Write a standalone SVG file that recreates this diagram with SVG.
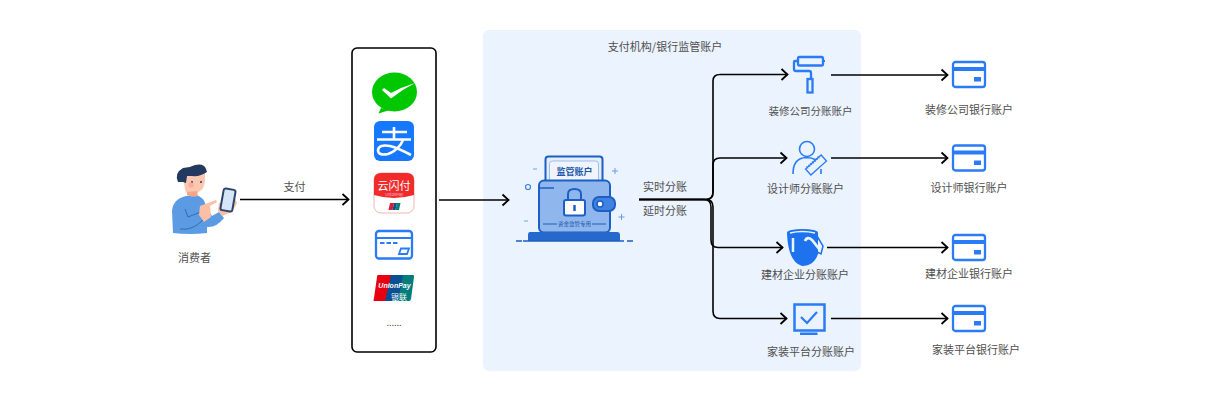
<svg xmlns="http://www.w3.org/2000/svg" width="1232" height="400" viewBox="0 0 1232 400">
<defs>
<style>
text{font-family:"Noto Sans CJK SC","Liberation Sans",sans-serif;font-size:11px;fill:#4f4f4f;text-anchor:middle}
.c{fill:none;stroke:#000;stroke-width:1.6}
.b{fill:none;stroke:#2a7bf6;stroke-width:2.300}
.f{fill:#2a7bf6}
</style>
<marker id="a" markerUnits="userSpaceOnUse" markerWidth="12" markerHeight="14" refX="9.500" refY="7" orient="auto"><path d="M3 1.500 L9 7 L3 12.500" fill="none" stroke="#000" stroke-width="1.800"/></marker>
<symbol id="card" viewBox="0 0 34 28" overflow="visible">
<rect x="1" y="1" width="32" height="25" rx="2.500" fill="none" stroke="#2a7bf6" stroke-width="2.300"/>
<rect x="1" y="6" width="32" height="4" fill="#2a7bf6"/>
<rect x="22" y="16" width="7" height="4.500" fill="#2a7bf6"/>
</symbol>
</defs>
<rect x="483" y="30" width="378" height="341" rx="6" fill="#ebf3fe"/>
<g id="connectors">
<path class="c" d="M240 199.500H349" marker-end="url(#a)"/>
<path class="c" d="M439 200H509" marker-end="url(#a)"/>
<path class="c" d="M639 199.500H706Q713 199.500 713 192V81Q713 74.500 720 74.500H788" marker-end="url(#a)"/>
<path class="c" d="M639 199.500H706Q713 199.500 713 192V165Q713 158 720 158H787" marker-end="url(#a)"/>
<path class="c" d="M639 199.500H704Q711 199.500 711 207V240Q711 247.500 718 247.500H783" marker-end="url(#a)"/>
<path class="c" d="M639 199.500H706Q713 199.500 713 207V311Q713 318.500 720 318.500H787" marker-end="url(#a)"/>
<path class="c" d="M831 75H948" marker-end="url(#a)"/>
<path class="c" d="M831 158H948" marker-end="url(#a)"/>
<path class="c" d="M827 247.500H948" marker-end="url(#a)"/>
<path class="c" d="M831 318.500H948" marker-end="url(#a)"/>
</g>
<g id="consumer">
<path d="M173 233 L172 211 Q173 199 186 196 L196 195 Q204 197 206 206 L212 216 L219 212 L224 218 Q216 228 207 227 L207 233 Q190 235 173 233Z" fill="#5b9be3"/>
<path d="M185 209L188 217L203 211M180 229Q192 231 203 220" fill="none" stroke="#2d5f9e" stroke-width=".8"/>
<path d="M200 206L216 200 217 202 210 206 211 217 204 222 199 215Z" fill="#fbbfa6"/>
<path d="M219 203L218 211 222 216 232 212 237 203 235 198Z" fill="#fbbfa6"/>
<path d="M184 172Q198 168 205 174Q206 188 200 191Q197 194 191 194L186 192Q183 184 184 172Z" fill="#fbc7b0"/>
<path d="M187 192L197 191 198 196Q192 198 187 195Z" fill="#f7a48d"/>
<path d="M178 182Q174 173 183 168Q189 168 195 165Q204 163 206 169L207 172Q200 177 192 176L187 176 186 183 183 182Z" fill="#24395f"/>
<circle cx="192" cy="182" r="1" fill="#24395f"/><circle cx="201" cy="182" r="1" fill="#24395f"/>
<circle cx="191" cy="185" r="2.800" fill="#f8a89a" opacity=".8"/>
<rect x="222" y="189" width="12" height="22" rx="2" transform="rotate(10 228 200)" fill="#d5e6f8" stroke="#2d4468" stroke-width="2"/>
<text x="194.500" y="261.500">消费者</text>
</g>
<text x="294.500" y="190.500">支付</text>
<rect x="352" y="48" width="84" height="304" rx="5" fill="#fff" stroke="#000" stroke-width="1.600"/>
<g id="wechat">
<ellipse cx="394.500" cy="92" rx="22.500" ry="19.500" fill="#00c800"/>
<path d="M381 108L378.500 113.500 390 110Z" fill="#00c800"/>
<path d="M382 90L384 88 391 93Q402 87 415 83Q403 89 391 98.500Z" fill="#fff"/>
</g>
<g id="alipay">
<rect x="374" y="121" width="40" height="40" rx="6" fill="#1677ff"/>
<path d="M382 132H407M394 127V139M377 139.500H411M403 140Q399 150 388 154Q378 156 378 150Q379 144 390 146Q398 148 411 155" fill="none" stroke="#fff" stroke-width="2.600"/>
</g>
<g id="unionpay-cloud">
<rect x="374" y="173" width="40" height="40" rx="7" fill="#fff" stroke="#f0b5b5"/>
<path d="M374 180Q374 173 381 173H407Q414 173 414 180V195Q394 201 374 195Z" fill="#f12a2a"/>
<text x="394" y="190" style="font-size:11px;fill:#fff">云闪付</text>
<text x="394" y="196" style="font-size:4px;fill:#fbd">UnionPay</text>
<path d="M388.500 210L390 203H394L392.500 210Z" fill="#d81e2c"/><path d="M392.500 210L394 203H397L395.500 210Z" fill="#124e8f"/><path d="M395.500 210L397 203H400.500L399 210Z" fill="#0b7f76"/>
</g>
<g id="bankcard">
<rect x="376" y="231" width="36" height="27.500" rx="3" fill="#fff" stroke="#2a7bf6" stroke-width="2.300"/>
<path d="M376 238H412" stroke="#2a7bf6" stroke-width="2"/>
<path d="M380 243H398" stroke="#2a7bf6" stroke-width="2" stroke-dasharray="4.500 2"/>
<path d="M399 254L401 248.500H409L407 254Z" fill="none" stroke="#2a7bf6" stroke-width="1.800"/>
</g>
<g id="unionpay">
<path d="M378 275H394L390 301H374Q373 301 374 298L377 277Q377 275 378 275Z" fill="#e60012"/>
<path d="M391 275H404L400 301H385Z" fill="#0a4f92"/>
<path d="M403 275H413Q414.500 275 414 277L411 299Q410.500 301 409 301H398Z" fill="#017e7b"/>
<text x="394.500" y="288" style="font-size:7px;font-style:italic;font-weight:700;fill:#fff;font-family:'Liberation Sans',sans-serif">UnionPay</text>
<text x="399" y="299.500" style="font-size:8px;fill:#fff">银联</text>
</g>
<text x="394" y="326" style="font-size:9px">......</text>
<text x="665" y="50.500">支付机构/银行监管账户</text>
<g id="vault">
<rect x="545.500" y="156.500" width="57" height="30" rx="3" fill="#e4eefb" stroke="#1d5fc4" stroke-width="2"/>
<rect x="549.500" y="161" width="49" height="25" rx="3" fill="#f0f5fd" stroke="#9dbdea"/>
<text x="574.500" y="175" style="font-size:9px;font-weight:700;fill:#2055a8">监管账户</text>
<rect x="539" y="180.500" width="71" height="52" rx="5" fill="#8fb7ee" stroke="#1d5fc4" stroke-width="2"/>
<path d="M540 188H554" stroke="#1d5fc4" stroke-width="1.500"/>
<rect x="593" y="197" width="22" height="14" rx="6" fill="#3f82e0" stroke="#1d5fc4" stroke-width="2"/>
<circle cx="600" cy="204" r="3" fill="#fff" stroke="#1d5fc4" stroke-width="1.500"/>
<rect x="564" y="200" width="21" height="15.500" rx="2" fill="#fff" stroke="#1d5fc4" stroke-width="2"/>
<path d="M568 200V194Q568 189 574.500 189Q581 189 581 194V200" fill="none" stroke="#1d5fc4" stroke-width="2"/>
<path d="M574.500 205V211" stroke="#1d5fc4" stroke-width="2.500"/>
<path d="M543 224H557M592 224H606" stroke="#1d5fc4"/>
<text x="574.500" y="226" style="font-size:5.500px;fill:#2055a8">资金监管专用</text>
<path d="M530 232H617Q620 232 620 235V241H528V235Q528 232 530 232Z" fill="#2668cc"/>
<path d="M516 241H522M523 241H624M627 241H633" stroke="#1d5fc4" stroke-width="1.600"/>
<circle cx="528" cy="187" r="2.500" fill="none" stroke="#3f82e0" stroke-width="1.200"/>
<path d="M533 169H537M524 221H528" stroke="#9dbdea" stroke-width="1.500"/>
<path d="M615 168V174M612 171H618M621.500 214V220M618.500 217H624.500" stroke="#6a9de4"/>
</g>
<text x="665" y="190.500">实时分账</text>
<text x="665" y="214.500">延时分账</text>
<g id="decor-account">
<rect x="798" y="57" width="25" height="8.500" rx="1.500" class="b"/>
<path d="M798 61H795Q794 61 794 62V69Q794 71 796 71H809Q811 71 811 73V78" class="b"/>
<rect x="807.500" y="79" width="5" height="13.500" class="b"/>
<path d="M823 61H825" stroke="#2a7bf6" stroke-width="2"/>
<text x="810.500" y="114.500" style="font-size:10.500px">装修公司分账账户</text>
</g>
<g id="designer-account">
<circle cx="807" cy="149" r="7.500" fill="none" stroke="#2a7bf6" stroke-width="1.600"/>
<path d="M793 174Q793 158 806 157.500Q812 157.500 816 160M821 169V174" fill="none" stroke="#2a7bf6" stroke-width="1.600"/>
<rect x="805.500" y="161" width="21" height="8" transform="rotate(-42 816 165)" fill="#eaf2fe" stroke="#2a7bf6" stroke-width="1.300"/>
<path d="M807.500 161H824.500" transform="rotate(-42 816 165)" stroke="#2a7bf6" stroke-width="2.500" stroke-dasharray="1 1.500"/>
<text x="805.500" y="192.500">设计师分账账户</text>
</g>
<g id="material-account">
<path d="M787 233Q788 262 802 266Q814 266 818 254V233Z" fill="#1e72ee"/>
<ellipse cx="802.500" cy="232.500" rx="15.500" ry="3.500" fill="#1e72ee"/>
<path d="M790 233Q802 230 815 233" fill="none" stroke="#ebf3fe" stroke-width="1.500"/>
<path d="M793 238V252" stroke="#ebf3fe" stroke-width="2.500" fill="none"/>
<path d="M805 241Q807 236 812 240L820 250" stroke="#ebf3fe" stroke-width="2.800" fill="none"/>
<path d="M817 236L823 246 821 254 815 251" fill="none" stroke="#1e72ee" stroke-width="1.500"/>
<text x="805" y="278.500">建材企业分账账户</text>
</g>
<g id="platform-account">
<rect x="794.500" y="304.500" width="30" height="26" class="b" style="stroke-width:2.500px"/>
<path d="M801 317L807 323 817 312" fill="none" stroke="#2a7bf6" stroke-width="2.200"/>
<rect x="800" y="332.500" width="17.500" height="2.500" class="f"/>
<text x="811" y="355.500">家装平台分账账户</text>
</g>
<g id="bank-1"><use href="#card" x="952" y="61" width="34" height="28"/><text x="969" y="113.500">装修公司银行账户</text></g>
<g id="bank-2"><use href="#card" x="952" y="144.500" width="34" height="28"/><text x="969" y="191.500">设计师银行账户</text></g>
<g id="bank-3"><use href="#card" x="952" y="234" width="34" height="28"/><text x="969" y="277.500">建材企业银行账户</text></g>
<g id="bank-4"><use href="#card" x="952" y="305" width="34" height="28"/><text x="976" y="353.500">家装平台银行账户</text></g>
</svg>
